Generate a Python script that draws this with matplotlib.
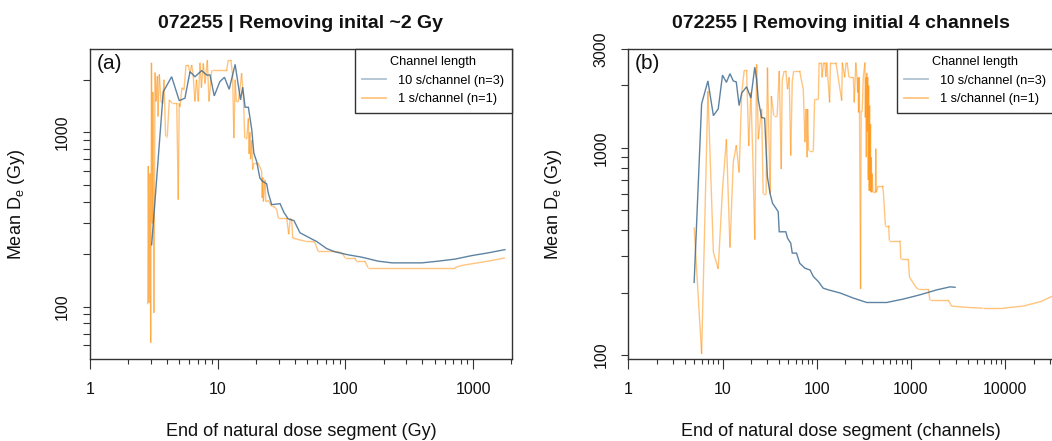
import numpy as np
import matplotlib
matplotlib.use("Agg")
import matplotlib.pyplot as plt
from matplotlib.collections import LineCollection
from matplotlib.ticker import FixedLocator, NullFormatter, FuncFormatter
from matplotlib.lines import Line2D

plt.rcParams['font.family'] = ['Liberation Sans', 'DejaVu Sans']
plt.rcParams['mathtext.fontset'] = 'custom'
plt.rcParams['mathtext.rm'] = 'Liberation Sans'
plt.rcParams['mathtext.it'] = 'Liberation Sans:italic'

# ---------------- data ----------------
series_labels = ["10 s/channel (n=3)", "1 s/channel (n=1)"]
legend_title = "Channel length"
titles = ["072255 | Removing inital ~2 Gy", "072255 | Removing initial 4 channels"]
xlabels = ["End of natural dose segment (Gy)", "End of natural dose segment (channels)"]
ylabel = r"Mean D$_{\mathregular{e}}$ (Gy)"
tags = ["(a)", "(b)"]

# Panel (a): x = dose (Gy)
a_blue_dose = [3.04, 3.75, 4.36, 5.00, 5.54, 6.07, 6.64, 7.49, 8.20, 8.71,
               9.40, 10.4, 11.3, 12.3, 13.7, 15.1, 15.7, 16.4, 17.4, 18.5,
               19.2, 20.2, 21.4, 22.5, 24.2, 24.9, 26.5, 30.8, 33.0, 35.7,
               39.6, 44.1, 52.8, 59.6, 71.4, 82.9, 105, 134, 181, 232,
               398, 531, 722, 980, 1309, 1778]
a_blue_de = [226, 1706, 2080, 1517, 1566, 2223, 2080, 2255, 2128, 2128,
             1615, 1950, 2065, 1762, 2448, 1531, 1811, 1390, 1390, 1031,
             758, 679, 546, 522, 506, 448, 384, 389, 347, 318,
             311, 265, 247, 236, 215, 206, 198, 192, 182, 178,
             178, 182, 187, 196, 203, 212]

a_orange_dose = [2.83, 2.86, 2.90, 2.95, 2.99, 3.03, 3.07, 3.11, 3.17, 3.23,
                 3.29, 3.37, 3.41, 3.49, 3.60, 3.71, 3.80, 3.91, 4.03, 4.18,
                 4.29, 4.39, 4.78, 4.91, 5.00, 5.07, 5.25, 5.45, 5.65, 5.89,
                 6.07, 6.26, 6.41, 6.64, 6.82, 7.05, 7.27, 7.46, 7.71, 7.96,
                 8.30, 8.55, 8.98, 11.75, 12.1, 12.7, 13.1, 13.4, 13.7, 14.0,
                 14.5, 15.0, 15.4, 15.9, 16.3, 16.9, 17.4, 17.6, 17.9, 18.1,
                 18.5, 18.8, 19.2, 19.9, 20.7, 22.1, 22.3, 22.6, 22.8, 23.5,
                 23.8, 25.0, 26.5, 27.6, 29.0, 29.8, 34.7, 36.0, 37.0, 38.0,
                 38.7, 48.3, 56.1, 57.8, 61.4, 78.2, 90.7, 96.3, 99.3, 119,
                 122, 142, 151, 722, 815, 1309, 1778]
a_orange_de = [103, 640, 105, 580, 62, 2500, 300, 1700, 92, 2200,
               1500, 2100, 1230, 2150, 1500, 1460, 2000, 944, 944, 1530,
               1500, 1465, 1465, 410, 1465, 1400, 1800, 1750, 2430, 2430,
               2180, 2430, 2180, 1500, 2000, 1500, 2500, 1800, 2480, 1900,
               2590, 1500, 2260, 2260, 2590, 2590, 2100, 925, 2000, 1500,
               1500, 1800, 2180, 1600, 925, 925, 1200, 750, 1000, 700,
               900, 610, 665, 665, 665, 600, 420, 550, 400, 533,
               400, 405, 375, 375, 360, 322, 322, 260, 320, 315,
               247, 237, 237, 232, 207, 207, 205, 199, 190, 190,
               182, 182, 167, 167, 172, 182, 190]

# Panel (b): x = channel number
b_blue_chan = [5, 6, 7, 8, 9, 10, 11, 12, 13, 14,
               15, 16, 18, 20, 22, 23, 24, 26, 28, 29,
               30, 32, 34, 37, 39, 40, 47, 49, 53, 55,
               61, 66, 75, 85, 92, 104, 117, 133, 177, 245,
               340, 553, 830, 1250, 1879, 2600, 2940]
b_blue_de = [224, 1630, 2104, 1430, 1540, 2244, 2070, 2280, 2104, 2080,
             1600, 1840, 1970, 1740, 2450, 2143, 1700, 1400, 1390, 986,
             720, 600, 539, 510, 491, 393, 393, 366, 346, 310,
             310, 277, 262, 257, 239, 226, 210, 206, 199, 188,
             179, 179, 186, 195, 206, 213, 212]

b_orange_chan = [5, 6, 7, 8, 9, 10, 11, 12, 13, 14,
                 15, 16, 17, 18, 19, 20, 21, 22, 23, 24,
                 26, 27, 29, 30, 32, 33, 35, 38, 40, 42,
                 43, 45, 47, 49, 51, 53, 55, 57, 66, 69,
                 72, 75, 77, 79, 80, 82, 92, 95, 104, 106,
                 112, 114, 118, 122, 125, 128, 137, 140, 160, 184,
                 187, 198, 205, 210, 220, 222, 245, 250, 260, 267,
                 272, 275, 278, 283, 292, 296, 304, 312, 325, 328,
                 332, 336, 340, 344, 348, 352, 356, 360, 364, 368,
                 372, 376, 380, 384, 388, 395, 420, 424, 428, 450,
                 500, 510, 536, 580, 590, 766, 780, 937, 965, 1150,
                 1195, 1530, 1590, 2490, 2700, 3600, 5800, 9500, 15600, 24000,
                 34000]
b_orange_de = [413, 101, 1880, 313, 260, 632, 1100, 330, 850, 1030,
               760, 1850, 2370, 2370, 1020, 1850, 880, 360, 2530, 1100,
               1540, 600, 600, 2440, 600, 1780, 1430, 1430, 2350, 790,
               2100, 2350, 2350, 1920, 2190, 917, 2100, 2350, 2350, 2100,
               1920, 1065, 1540, 900, 1540, 968, 968, 1720, 1720, 2580,
               2580, 2190, 2580, 2580, 2200, 2580, 1655, 2580, 2580, 1690,
               2580, 2190, 2580, 2580, 2190, 2190, 2190, 1655, 2580, 2190,
               1850, 2190, 1480, 2190, 208, 1510, 1510, 2190, 2580, 1400,
               2190, 900, 2300, 1200, 2190, 700, 2000, 620, 1600, 620,
               1300, 610, 900, 610, 750, 609, 609, 990, 609, 655,
               655, 609, 421, 421, 356, 356, 290, 290, 237, 210,
               208, 208, 184, 184, 172, 170, 168, 168, 172, 181,
               195]

# ---------------- style ----------------
BLUE_BASE = "#36648B"
ORANGE_BASE = "#FF8C00"
AXCOL = "#333333"

W, H = 1052, 441
fig = plt.figure(figsize=(W / 100, H / 100), dpi=100)
fig.patch.set_facecolor("white")


def add_axes(l, r, t, b):
    return fig.add_axes([l / W, 1 - b / H, (r - l) / W, (b - t) / H])


axA = add_axes(90, 512, 49, 359)
axB = add_axes(628.3, 1054, 49, 359)


def draw(ax, bx, by, ox, oy):
    ax.plot(bx, by, color=BLUE_BASE, alpha=0.8, lw=1.0, zorder=3,
            solid_joinstyle="miter")
    ox = np.asarray(ox, float)
    oy = np.asarray(oy, float)
    pts = np.column_stack([ox, oy])
    segs = np.stack([pts[:-1], pts[1:]], axis=1)
    lc = LineCollection(segs, colors=ORANGE_BASE, alpha=0.5, linewidths=1.0,
                        capstyle="butt", zorder=2)
    ax.add_collection(lc)


def style(ax, xlim, ylim, xmaj, ymaj, yminor, xlabel, title, tag, ylab_x):
    ax.set_xscale("log")
    ax.set_yscale("log")
    ax.set_xlim(*xlim)
    ax.set_ylim(*ylim)
    ax.xaxis.set_major_locator(FixedLocator(xmaj))
    xminor = [m * 10 ** k for k in range(0, 5) for m in range(2, 10)]
    ax.xaxis.set_minor_locator(FixedLocator(xminor))
    ax.yaxis.set_major_locator(FixedLocator(ymaj))
    ax.yaxis.set_minor_locator(FixedLocator(yminor))
    fmt = FuncFormatter(lambda v, p: f"{v:g}")
    ax.xaxis.set_major_formatter(fmt)
    ax.yaxis.set_major_formatter(fmt)
    ax.xaxis.set_minor_formatter(NullFormatter())
    ax.yaxis.set_minor_formatter(NullFormatter())
    for s in ax.spines.values():
        s.set_color(AXCOL)
        s.set_linewidth(1.0)
    ax.tick_params(axis="both", which="both", direction="out", color=AXCOL,
                   width=0.8, labelsize=11.5, labelcolor="#111111")
    ax.tick_params(axis="x", which="major", length=7.2, pad=9)
    ax.tick_params(axis="x", which="minor", length=3.8)
    ax.tick_params(axis="y", which="major", length=5.4, pad=9)
    ax.tick_params(axis="y", which="minor", length=5.0)
    for lab in ax.get_yticklabels():
        lab.set_rotation(90)
        lab.set_va("center")
    ax.set_xlabel(xlabel, fontsize=13, color="#111111")
    ax.xaxis.set_label_coords(0.5, -0.205)
    ax.xaxis.label.set_va("top")
    ax.set_ylabel(ylabel, fontsize=13, color="#111111")
    ax.yaxis.label.set_va("center")
    ax.yaxis.set_label_coords(ylab_x, 0.5)
    ax.set_title(title, fontsize=14, fontweight="bold", pad=15, color="#111111")
    ax.text(0.016, 0.952, tag, transform=ax.transAxes, fontsize=15,
            ha="left", va="center", color="#111111")
    handles = [Line2D([], [], color=BLUE_BASE, alpha=0.4, lw=1.3),
               Line2D([], [], color=ORANGE_BASE, alpha=0.5, lw=1.3)]
    leg = ax.legend(handles, series_labels, title=legend_title,
                    loc="upper right", bbox_to_anchor=(1, 1), borderaxespad=0,
                    fontsize=9.2, title_fontsize=9.2, frameon=True,
                    fancybox=False, edgecolor=AXCOL, framealpha=1,
                    handlelength=1.9, handletextpad=0.95, borderpad=0.58,
                    labelspacing=0.5)
    leg.get_frame().set_linewidth(1.0)


draw(axA, a_blue_dose, a_blue_de, a_orange_dose, a_orange_de)
style(axA, (1, 2020), (50, 3000), [1, 10, 100, 1000], [100, 1000],
      [60, 70, 80, 90, 200, 300, 400, 500, 600, 700, 800, 900, 2000],
      xlabels[0], titles[0], tags[0], -0.175)

draw(axB, b_blue_chan, b_blue_de, b_orange_chan, b_orange_de)
style(axB, (1, 33000), (95.5, 3000), [1, 10, 100, 1000, 10000], [100, 1000, 3000],
      [200, 300, 400, 500, 600, 700, 800, 900, 2000],
      xlabels[1], titles[1], tags[1], -0.175)

fig.savefig("out.png", dpi=100, facecolor="white")
